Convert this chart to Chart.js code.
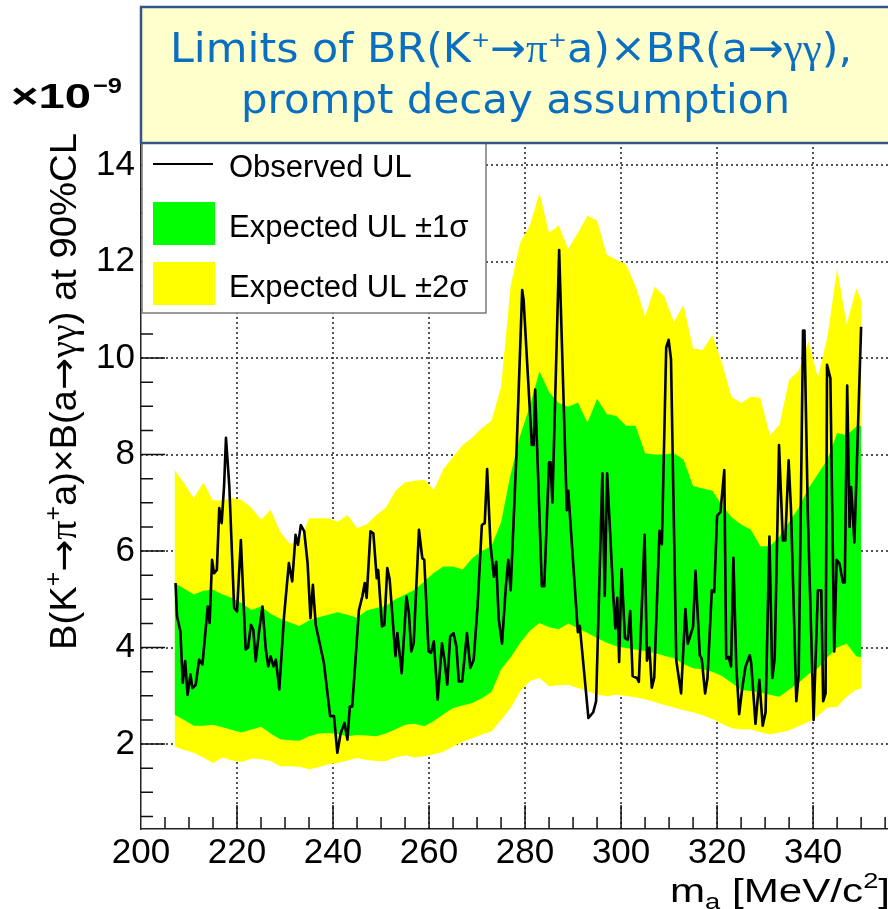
<!DOCTYPE html>
<html>
<head>
<meta charset="utf-8">
<title>Limits of BR(K+ → π+ a) × BR(a → γγ)</title>
<script src="https://cdn.jsdelivr.net/npm/chart.js@4.4.0/dist/chart.umd.min.js"></script>
<style>
  html, body { margin: 0; padding: 0; background: #fff; overflow: hidden; }
  canvas { display: block; }
</style>
</head>
<body>
<canvas id="myChart" width="888" height="909"></canvas>
<script>
/* mass points of the expected bands (MeV/c^2) */
var bandX = [207, 209, 211, 213, 215, 217, 219, 221, 223, 225, 227, 229, 231, 233, 235, 237,
  239, 241, 243, 245, 247, 249, 251, 253, 255, 257, 259, 261, 263, 265, 267, 269, 271, 273,
  275, 277, 279, 281, 283, 285, 287, 289, 291, 293, 295, 297, 299, 301, 303, 305, 307, 309,
  311, 313, 315, 317, 319, 321, 323, 325, 327, 329, 331, 333, 335, 337, 339, 341, 343, 345,
  347, 349, 350];

/* expected UL +2 sigma / -2 sigma (x1e-9) */
var yellowHi = [7.68, 7.40, 7.10, 7.42, 7.05, 7.05, 7.10, 7.06, 6.90, 6.65, 6.85, 6.40, 6.15, 6.20, 6.68, 6.68,
  6.68, 6.61, 6.75, 6.48, 6.55, 6.75, 6.90, 7.25, 7.42, 7.46, 7.48, 7.27, 7.70, 7.95, 8.20, 8.35, 8.55, 8.70,
  9.40, 11.50, 12.40, 12.75, 13.42, 12.60, 12.75, 12.26, 12.60, 12.95, 12.85, 12.15, 12.04, 11.95, 11.50, 10.86, 11.48, 11.28,
  10.75, 11.10, 10.20, 10.17, 10.48, 9.90, 9.20, 9.07, 9.20, 9.18, 8.40, 8.62, 9.55, 9.74, 10.35, 9.60, 10.45, 11.85,
  10.70, 11.45, 11.20];
var yellowLo = [1.95, 1.88, 1.82, 1.72, 1.61, 1.72, 1.66, 1.63, 1.70, 1.69, 1.65, 1.54, 1.54, 1.53, 1.48, 1.52,
  1.58, 1.61, 1.66, 1.71, 1.67, 1.65, 1.65, 1.72, 1.77, 1.72, 1.75, 1.79, 1.84, 1.95, 2.05, 2.12, 2.20, 2.26,
  2.50, 2.75, 3.10, 3.30, 3.37, 3.20, 3.22, 3.23, 3.16, 3.10, 3.03, 2.99, 3.02, 3.00, 2.97, 2.93, 2.87, 2.81,
  2.76, 2.70, 2.66, 2.60, 2.52, 2.42, 2.33, 2.31, 2.30, 2.25, 2.20, 2.24, 2.28, 2.37, 2.46, 2.58, 2.76, 2.77,
  2.98, 3.13, 3.15];

/* expected UL +1 sigma / -1 sigma (x1e-9) */
var greenHi = [5.34, 5.22, 5.10, 5.18, 5.20, 5.10, 5.03, 4.92, 4.78, 4.85, 4.70, 4.60, 4.52, 4.45, 4.56, 4.63,
  4.68, 4.73, 4.68, 4.62, 4.77, 4.82, 4.86, 5.00, 5.10, 5.20, 5.37, 5.55, 5.68, 5.68, 5.62, 5.85, 6.00, 6.10,
  6.60, 7.60, 8.40, 9.00, 9.73, 9.30, 9.07, 8.99, 9.08, 8.66, 9.16, 8.84, 8.80, 8.60, 8.60, 8.03, 8.00, 8.00,
  8.03, 7.90, 7.35, 7.30, 7.25, 6.95, 6.70, 6.55, 6.45, 6.10, 6.10, 6.30, 6.60, 6.90, 7.30, 7.60, 7.90, 8.45,
  8.40, 8.58, 8.60];
var greenLo = [2.61, 2.50, 2.38, 2.38, 2.40, 2.35, 2.29, 2.24, 2.30, 2.36, 2.22, 2.10, 2.08, 2.07, 2.16, 2.22,
  2.23, 2.21, 2.16, 2.19, 2.18, 2.16, 2.22, 2.31, 2.40, 2.42, 2.37, 2.48, 2.62, 2.75, 2.80, 2.85, 2.95, 3.08,
  3.55, 3.80, 4.10, 4.35, 4.51, 4.42, 4.38, 4.50, 4.40, 4.30, 4.20, 4.10, 4.03, 3.99, 3.96, 3.93, 3.89, 3.83,
  3.78, 3.66, 3.57, 3.55, 3.50, 3.41, 3.27, 3.12, 3.10, 3.07, 3.02, 2.98, 3.13, 3.27, 3.45, 3.57, 3.80, 4.00,
  4.08, 3.82, 3.80];

/* observed upper limit */
var obsX = [207.2, 207.5, 208.2, 208.7, 209.2, 209.7, 210.3, 210.7, 211.4, 212.1, 212.8, 213.9, 214.3, 214.8,
  215.2, 215.8, 216.3, 216.8, 217.3, 217.7, 218.4, 219.4, 220.0, 220.8, 221.8, 222.3, 222.9, 223.4, 223.9,
  224.6, 225.3, 226.0, 226.5, 227.0, 227.6, 228.1, 228.8, 229.8, 230.8, 231.5, 232.2, 232.7, 233.3, 234.0,
  234.7, 235.3, 235.8, 236.4, 238.1, 239.4, 240.2, 240.9, 241.6, 242.4, 243.0, 243.5, 244.0, 245.4, 246.1,
  246.6, 247.0, 247.8, 248.4, 249.1, 249.4, 250.2, 250.7, 251.3, 251.8, 253.0, 253.4, 254.3, 255.3, 255.8,
  256.3, 256.8, 257.9, 258.6, 259.0, 259.9, 260.4, 261.0, 261.8, 262.7, 263.2, 263.8, 264.4, 265.1, 265.7,
  266.2, 266.9, 267.9, 268.6, 269.3, 270.1, 271.0, 271.6, 272.1, 272.8, 273.5, 274.0, 274.5, 275.2, 276.0,
  276.5, 277.0, 278.2, 279.4, 279.7, 281.0, 281.4, 281.8, 282.1, 283.5, 284.0, 285.0, 285.3, 285.7, 287.1,
  288.7, 289.0, 291.0, 291.4, 293.2, 294.2, 294.8, 296.1, 296.6, 297.1, 298.4, 298.8, 299.2, 299.6, 300.1,
  300.8, 301.4, 301.9, 302.4, 303.3, 303.7, 304.9, 305.4, 305.9, 306.4, 306.9, 308.0, 308.5, 309.4, 309.9,
  310.4, 311.5, 312.5, 313.4, 313.9, 314.4, 315.0, 315.5, 316.4, 316.8, 317.5, 318.0, 318.9, 319.4, 320.0,
  320.7, 321.5, 321.9, 322.4, 322.9, 323.4, 324.0, 324.6, 325.2, 325.9, 326.8, 327.1, 328.0, 328.8, 329.5,
  330.1, 330.9, 331.5, 332.0, 332.9, 333.7, 334.2, 334.9, 335.4, 336.5, 337.0, 337.9, 338.2, 338.9, 340.1,
  341.0, 341.7, 342.1, 342.6, 342.9, 343.6, 344.4, 344.9, 345.5, 346.2, 346.6, 347.1, 347.6, 347.9, 348.2,
  348.6, 350.0];
var obsY = [5.34, 4.65, 4.34, 3.27, 3.72, 3.02, 3.44, 3.16, 3.23, 3.75, 3.65, 4.85, 4.51, 5.82,
  5.54, 5.61, 6.89, 6.58, 7.34, 8.35, 7.34, 4.82, 4.75, 6.23, 3.96, 4.00, 4.47, 4.37, 3.72,
  4.34, 4.85, 3.96, 3.61, 3.82, 3.61, 3.75, 3.13, 4.65, 5.75, 5.37, 6.34, 6.13, 6.54, 6.41,
  5.75, 4.61, 5.30, 4.47, 3.68, 2.58, 2.58, 1.82, 2.23, 2.44, 2.09, 2.78, 2.78, 4.78, 5.06,
  5.34, 5.03, 6.41, 6.37, 5.44, 5.61, 4.44, 4.47, 5.65, 5.41, 3.82, 4.30, 3.47, 5.06, 4.72,
  3.92, 4.09, 6.44, 5.85, 5.82, 3.92, 3.89, 4.13, 2.92, 4.09, 3.75, 3.23, 4.23, 4.30, 4.02,
  3.30, 3.30, 4.30, 3.58, 3.75, 4.85, 6.54, 6.58, 7.70, 6.13, 5.47, 5.78, 4.60, 4.08, 5.27,
  5.82, 5.19, 8.00, 11.41, 11.20, 8.91, 8.20, 8.20, 9.35, 5.27, 5.27, 7.84, 7.84, 7.01, 12.24,
  6.85, 7.25, 4.32, 4.45, 2.54, 2.66, 2.89, 7.61, 5.07, 7.61, 5.03, 4.40, 5.03, 3.70, 5.63,
  4.20, 4.16, 4.76, 3.41, 3.37, 3.29, 6.34, 3.73, 4.00, 3.17, 3.37, 6.42, 6.14, 10.22, 10.38,
  9.98, 3.73, 3.05, 4.80, 4.08, 4.24, 4.44, 5.59, 3.84, 3.77, 3.05, 3.37, 5.19, 5.15, 6.73,
  6.81, 7.68, 3.77, 3.81, 3.61, 5.86, 3.61, 2.62, 3.13, 3.60, 3.84, 3.68, 2.42, 3.33, 2.38,
  2.66, 6.30, 3.37, 3.77, 8.20, 6.22, 6.22, 7.88, 6.85, 2.89, 3.45, 10.57, 10.57, 6.77, 2.50,
  5.19, 5.19, 2.89, 3.05, 9.86, 9.58, 3.92, 5.82, 5.74, 5.35, 5.35, 9.43, 6.50, 7.33, 6.89,
  6.18, 10.65];

/* axis tick labels */
var xTicks = [200, 220, 240, 260, 280, 300, 320, 340];
var yTicks = [2, 4, 6, 8, 10, 12, 14];
var legendLabels = ['Observed UL', 'Expected UL \u00b11\u03c3', 'Expected UL \u00b12\u03c3'];

var GREEN = '#00ff00';
var YELLOW = '#ffff00';
var SANS = '"Liberation Sans", Arial, sans-serif';
var SERIF = '"Liberation Serif", "Times New Roman", serif';
var SLIDE = '"DejaVu Sans", Verdana, sans-serif';

function pts(xs, ys) {
  return xs.map(function (x, i) { return { x: x, y: ys[i] }; });
}

/* draws a row of text pieces [text, font, dy] squeezed to a given width */
function drawRuns(ctx, runs, x, y, width) {
  var total = 0;
  runs.forEach(function (r) { ctx.font = r[1]; total += ctx.measureText(r[0]).width; });
  var sx = width ? width / total : 1;
  ctx.save();
  ctx.translate(x, y);
  ctx.scale(sx, 1);
  ctx.textAlign = 'left';
  ctx.textBaseline = 'alphabetic';
  var cx = 0;
  runs.forEach(function (r) {
    ctx.font = r[1];
    ctx.fillText(r[0], cx, r[2] || 0);
    cx += ctx.measureText(r[0]).width;
  });
  ctx.restore();
}

/* dotted grid at the labelled ticks, under the bands */
var dottedGrid = {
  id: 'dottedGrid',
  beforeDatasetsDraw: function (chart) {
    var ctx = chart.ctx, a = chart.chartArea;
    var xs = chart.scales.x, ys = chart.scales.y;
    ctx.save();
    ctx.strokeStyle = '#1e1e1e';
    ctx.lineWidth = 1.5;
    ctx.setLineDash([2, 3]);
    xTicks.forEach(function (v) {
      if (v === 200) return;
      var px = Math.round(xs.getPixelForValue(v));
      ctx.beginPath();
      ctx.moveTo(px, a.bottom);
      ctx.lineTo(px, a.top);
      ctx.stroke();
    });
    yTicks.forEach(function (v) {
      var py = Math.round(ys.getPixelForValue(v));
      ctx.beginPath();
      ctx.moveTo(a.left, py);
      ctx.lineTo(a.right, py);
      ctx.stroke();
    });
    ctx.restore();
  }
};

/* ROOT style tick marks drawn inside the frame */
var frameTicks = {
  id: 'frameTicks',
  afterDatasetsDraw: function (chart) {
    var ctx = chart.ctx, a = chart.chartArea;
    var xs = chart.scales.x, ys = chart.scales.y;
    ctx.save();
    ctx.strokeStyle = '#111';
    ctx.lineWidth = 1.5;
    ctx.beginPath();
    for (var v = 205; v <= 355; v += 5) {
      var px = xs.getPixelForValue(v);
      var len = (v % 20 === 0) ? 24 : 12;
      ctx.moveTo(px, a.bottom);
      ctx.lineTo(px, a.bottom - len);
    }
    for (var k = 1; k <= 29; k++) {
      var py = ys.getPixelForValue(k * 0.5);
      var l = (k % 4 === 0) ? 24 : 12;
      ctx.moveTo(a.left, py);
      ctx.lineTo(a.left + l, py);
    }
    ctx.stroke();
    ctx.restore();
  }
};

/* legend, title box and axis titles */
var decorations = {
  id: 'decorations',
  afterDraw: function (chart) {
    var ctx = chart.ctx;
    ctx.save();

    // legend
    ctx.fillStyle = '#fff';
    ctx.fillRect(142, 143, 344, 170);
    ctx.strokeStyle = '#7a7a7a';
    ctx.lineWidth = 1.5;
    ctx.strokeRect(142, 143, 344, 170);
    ctx.strokeStyle = '#000';
    ctx.lineWidth = 2;
    ctx.beginPath();
    ctx.moveTo(153, 164);
    ctx.lineTo(213, 164);
    ctx.stroke();
    ctx.fillStyle = GREEN;
    ctx.fillRect(153, 202, 62, 43);
    ctx.fillStyle = YELLOW;
    ctx.fillRect(153, 262, 62, 43);
    ctx.fillStyle = '#000';
    ctx.font = '31px ' + SANS;
    ctx.textBaseline = 'alphabetic';
    ctx.fillText(legendLabels[0], 229, 177);
    ctx.fillText(legendLabels[1], 229, 237);
    ctx.fillText(legendLabels[2], 229, 297);

    // title box
    ctx.fillStyle = '#ffffcc';
    ctx.fillRect(141, 7, 760, 136);
    ctx.strokeStyle = '#34548a';
    ctx.lineWidth = 2.5;
    ctx.strokeRect(141, 7, 760, 136);
    ctx.fillStyle = '#0b6fc1';
    var tf = '41px ' + SLIDE, ts = '41px ' + SERIF, tp = '22px ' + SLIDE;
    drawRuns(ctx, [
      ['Limits of BR(K', tf], ['+', tp, -15], ['\u2192', tf], ['\u03c0', ts], ['+', tp, -15],
      ['a)\u00d7BR(a\u2192', tf], ['\u03b3\u03b3', ts], ['),', tf]
    ], 170, 62, 682);
    drawRuns(ctx, [['prompt decay assumption', tf]], 241, 113, 549);

    // exponent
    ctx.fillStyle = '#000';
    drawRuns(ctx, [['\u00d710', 'bold 35px ' + SANS]], 11, 108, 80);
    drawRuns(ctx, [['\u22129', 'bold 22px ' + SANS]], 93, 93, 29);

    // y title
    ctx.save();
    ctx.translate(76, 650);
    ctx.rotate(-Math.PI / 2);
    var yf = '37px ' + SANS, yg = '37px ' + SERIF, ya = '37px ' + SLIDE, yp = '24px ' + SANS;
    drawRuns(ctx, [
      ['B(K', yf], ['+', yp, -15], ['\u2192', ya], ['\u03c0', yg], ['+', yp, -15],
      ['a)\u00d7B(a', yf], ['\u2192', ya], ['\u03b3\u03b3', yg], [') at 90%CL', yf]
    ], 0, 0, 517);
    ctx.restore();

    // x title
    drawRuns(ctx, [
      ['m', '34px ' + SANS], ['a', '22px ' + SANS, 7], [' [MeV/c', '34px ' + SANS],
      ['2', '22px ' + SANS, -14], [']', '34px ' + SANS]
    ], 670, 902, 220);

    ctx.restore();
  }
};

var config = {
  type: 'line',
  data: {
    datasets: [
      {
        label: legendLabels[0],
        data: pts(obsX, obsY),
        borderColor: '#000',
        borderWidth: 2.6,
        borderJoinStyle: 'round',
        pointRadius: 0,
        fill: false,
        order: 0
      },
      {
        label: legendLabels[1],
        data: pts(bandX, greenHi),
        borderColor: 'rgba(0,0,0,0)',
        borderWidth: 0,
        backgroundColor: GREEN,
        pointRadius: 0,
        fill: '+1',
        order: 1
      },
      {
        data: pts(bandX, greenLo),
        borderColor: 'rgba(0,0,0,0)',
        borderWidth: 0,
        pointRadius: 0,
        fill: false,
        order: 2
      },
      {
        label: legendLabels[2],
        data: pts(bandX, yellowHi),
        borderColor: 'rgba(0,0,0,0)',
        borderWidth: 0,
        backgroundColor: YELLOW,
        pointRadius: 0,
        fill: '+1',
        order: 3
      },
      {
        data: pts(bandX, yellowLo),
        borderColor: 'rgba(0,0,0,0)',
        borderWidth: 0,
        pointRadius: 0,
        fill: false,
        order: 4
      }
    ]
  },
  options: {
    responsive: false,
    animation: false,
    devicePixelRatio: 1,
    layout: {
      padding: { top: 141, left: 0, right: 0, bottom: 0 }
    },
    elements: { line: { tension: 0 } },
    plugins: {
      legend: { display: false },
      title: { display: false },
      tooltip: { enabled: false }
    },
    scales: {
      x: {
        type: 'linear',
        min: 200,
        max: 355.6,
        afterBuildTicks: function (s) { s.ticks = xTicks.map(function (v) { return { value: v }; }); },
        afterFit: function (s) { s.height = 80; },
        grid: { display: false, drawTicks: false },
        border: { display: true, color: '#222', width: 1.5 },
        ticks: {
          padding: 3,
          maxRotation: 0,
          color: '#000',
          font: { family: SANS, size: 35 }
        }
      },
      y: {
        type: 'linear',
        min: 0.24,
        max: 14.5,
        afterBuildTicks: function (s) { s.ticks = yTicks.map(function (v) { return { value: v }; }); },
        afterFit: function (s) { s.width = 141; },
        grid: { display: false, drawTicks: false },
        border: { display: true, color: '#222', width: 1.5 },
        ticks: {
          padding: 6,
          color: '#000',
          font: { family: SANS, size: 35 }
        }
      }
    }
  },
  plugins: [dottedGrid, frameTicks, decorations]
};

var myChart = new Chart(document.getElementById('myChart'), config);
</script>
</body>
</html>
